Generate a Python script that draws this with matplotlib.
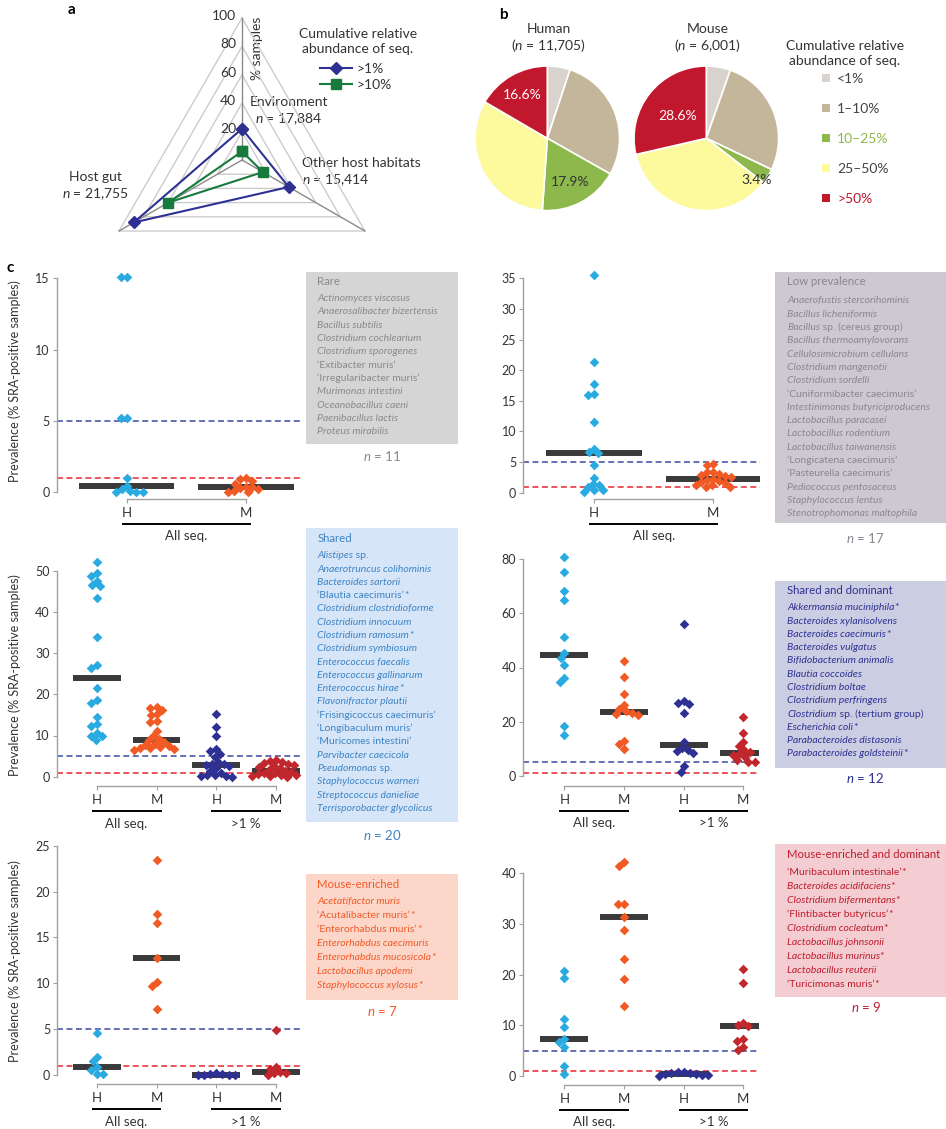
import numpy as np
import matplotlib
matplotlib.use("Agg")
import matplotlib.pyplot as plt
import matplotlib.transforms as mtransforms
from matplotlib.patches import Rectangle, Patch
from matplotlib.lines import Line2D

plt.rcParams['font.family'] = ['Lato', 'DejaVu Sans']
plt.rcParams['mathtext.fontset'] = 'custom'
plt.rcParams['mathtext.rm'] = 'Lato'
plt.rcParams['mathtext.it'] = 'Lato:italic'
plt.rcParams['mathtext.bf'] = 'Lato:bold'

# --- data: panel a (radar, % samples) ---
habitats = ['Environment', 'Other host habitats', 'Host gut']
habitat_n = ['17,884', '15,414', '21,755']
radar_gt1 = [22, 38, 88]
radar_gt10 = [6, 17, 60]

# --- data: panel b (pies, % of species) ---
pie_labels = ['<1%', '1–10%', '10–25%', '25–50%', '>50%']
human_pct = [5.1, 28.1, 17.9, 32.3, 16.6]
mouse_pct = [5.4, 26.7, 3.4, 35.9, 28.6]
pie_colors = ['#d9d3cd', '#c4b69b', '#8db84b', '#fdfa9d', '#c1182e']
pie_text_colors = ['#444444', '#444444', '#8db84b', '#444444', '#c1182e']

# --- data: panel c (prevalence, % SRA-positive samples) ---
rare_H = [15.1, 15.1, 5.2, 5.2, 1.0, 0.45, 0.2, 0.1, 0.0, 0.0, 0.0]
rare_M = [1.0, 0.9, 0.8, 0.6, 0.4, 0.35, 0.3, 0.2, 0.1, 0.05, 0.0]

low_H = [35.5, 21.4, 17.7, 16.1, 15.9, 11.5, 7.1, 6.6, 6.4, 4.6, 2.4, 1.4, 1.2, 0.9, 0.4, 0.4, 0.1]
low_M = [4.7, 4.6, 3.4, 3.3, 3.1, 2.9, 2.7, 2.6, 2.2, 2.0, 1.9, 1.8, 1.6, 1.3, 1.2, 1.0, 1.0]

shared_H = [52.0, 49.5, 48.7, 47.5, 46.6, 46.3, 43.3, 34.0, 27.0, 26.5,
            21.5, 18.7, 17.9, 14.5, 12.8, 12.3, 10.7, 10.0, 9.8, 9.0]
shared_M = [17.0, 16.7, 16.3, 15.3, 14.9, 13.6, 13.3, 11.2, 9.9, 9.2,
            8.8, 8.5, 8.0, 7.7, 7.5, 7.2, 7.0, 6.9, 6.8, 6.6]
shared_H1 = [15.3, 12.0, 9.8, 6.7, 6.3, 5.5, 4.8, 3.5, 3.2, 3.0,
             2.8, 2.5, 2.0, 1.5, 1.0, 0.5, 0.3, 0.2, 0.1, 0.0]
shared_M1 = [4.0, 3.8, 3.6, 3.3, 3.0, 2.8, 2.6, 2.3, 2.0, 1.6,
             1.4, 1.2, 1.0, 0.8, 0.6, 0.4, 0.3, 0.2, 0.1, 0.0]

shdom_H = [80.8, 75.2, 68.2, 65.1, 51.2, 45.5, 43.5, 40.8, 36.0, 34.5, 18.3, 15.0]
shdom_M = [42.5, 36.4, 30.1, 26.1, 24.8, 24.0, 23.3, 22.8, 22.5, 12.9, 11.7, 9.8]
shdom_H1 = [56.0, 27.5, 27.0, 26.5, 23.1, 12.5, 10.3, 9.5, 9.0, 8.5, 3.6, 1.5]
shdom_M1 = [21.8, 15.7, 12.6, 11.0, 9.5, 8.9, 8.0, 7.6, 7.0, 5.8, 5.2, 4.9]

menr_H = [4.6, 2.0, 1.5, 0.9, 0.55, 0.1, 0.07]
menr_M = [23.4, 17.6, 16.6, 12.8, 10.1, 9.7, 7.2]
menr_H1 = [0.2, 0.15, 0.1, 0.05, 0.0, 0.0, 0.0]
menr_M1 = [4.9, 0.85, 0.7, 0.35, 0.25, 0.2, 0.05]

mdom_H = [20.7, 19.4, 11.3, 9.6, 7.3, 6.8, 5.8, 2.0, 0.3]
mdom_M = [42.2, 41.5, 33.9, 33.9, 31.3, 28.9, 23.1, 19.1, 13.8]
mdom_H1 = [0.8, 0.7, 0.6, 0.5, 0.4, 0.3, 0.2, 0.1, 0.0]
mdom_M1 = [21.1, 18.3, 10.5, 10.1, 9.8, 7.3, 7.0, 5.7, 5.1]

rare_species = ['Actinomyces viscosus', 'Anaerosalibacter bizertensis', 'Bacillus subtilis',
                'Clostridium cochlearium', 'Clostridium sporogenes', '‘Extibacter muris’',
                '‘Irregularibacter muris’', 'Murimonas intestini', 'Oceanobacillus caeni',
                'Paenibacillus lactis', 'Proteus mirabilis']
low_species = ['Anaerofustis stercorihominis', 'Bacillus licheniformis', 'Bacillus sp. (cereus group)',
               'Bacillus thermoamylovorans', 'Cellulosimicrobium cellulans', 'Clostridium mangenotii',
               'Clostridium sordelli', '‘Cuniformibacter caecimuris’', 'Intestinimonas butyriciproducens',
               'Lactobacillus paracasei', 'Lactobacillus rodentium', 'Lactobacillus taiwanensis',
               '‘Longicatena caecimuris’', '‘Pasteurella caecimuris’', 'Pediococcus pentosaceus',
               'Staphylococcus lentus', 'Stenotrophomonas maltophila']
shared_species = ['Alistipes sp.', 'Anaerotruncus colihominis', 'Bacteroides sartorii',
                  '‘Blautia caecimuris’*', 'Clostridium clostridioforme', 'Clostridium innocuum',
                  'Clostridium ramosum*', 'Clostridium symbiosum', 'Enterococcus faecalis',
                  'Enterococcus gallinarum', 'Enterococcus hirae*', 'Flavonifractor plautii',
                  '‘Frisingicoccus caecimuris’', '‘Longibaculum muris’', '‘Muricomes intestini’',
                  'Parvibacter caecicola', 'Pseudomonas sp.', 'Staphylococcus warneri',
                  'Streptococcus danieliae', 'Terrisporobacter glycolicus']
shdom_species = ['Akkermansia muciniphila*', 'Bacteroides xylanisolvens', 'Bacteroides caecimuris*',
                 'Bacteroides vulgatus', 'Bifidobacterium animalis', 'Blautia coccoides',
                 'Clostridium boltae', 'Clostridium perfringens', 'Clostridium sp. (tertium group)',
                 'Escherichia coli*', 'Parabacteroides distasonis', 'Parabacteroides goldsteinii*']
menr_species = ['Acetatifactor muris', '‘Acutalibacter muris’*', '‘Enterorhabdus muris’*',
                'Enterorhabdus caecimuris', 'Enterorhabdus mucosicola*', 'Lactobacillus apodemi',
                'Staphylococcus xylosus*']
mdom_species = ['‘Muribaculum intestinale’*', 'Bacteroides acidifaciens*', 'Clostridium bifermentans*',
                '‘Flintibacter butyricus’*', 'Clostridium cocleatum*', 'Lactobacillus johnsonii',
                'Lactobacillus murinus*', 'Lactobacillus reuterii', '‘Turicimonas muris’*']

C_H, C_M, C_H1, C_M1 = '#29abe2', '#f15a24', '#2e3192', '#c1272d'
TXT = '#333333'

W, H = 946, 1129
fig = plt.figure(figsize=(W / 100, H / 100), dpi=100)


def px_axes(x0, y0, x1, y1):
    return fig.add_axes([x0 / W, 1 - y1 / H, (x1 - x0) / W, (y1 - y0) / H])


# overlay in pixel coordinates for free text and boxes
ov = px_axes(0, 0, W, H)
ov.set_xlim(0, W)
ov.set_ylim(H, 0)
ov.axis('off')

# ---------------- panel a ----------------
cx, cy, scale = 242, 160, 1.42
ax_a = px_axes(40, 0, 440, 245)
ax_a.set_xlim((40 - cx) / scale, (440 - cx) / scale)
ax_a.set_ylim((cy - 245) / scale, cy / scale)
ax_a.axis('off')
ang = np.deg2rad([90, -30, 210])


def radar_xy(r):
    r = np.asarray(r, float)
    x, y = r * np.cos(ang), r * np.sin(ang)
    return np.append(x, x[0]), np.append(y, y[0])


for lev in [20, 40, 60, 80, 100]:
    gx, gy = radar_xy([lev] * 3)
    ax_a.plot(gx, gy, color='#cccccc', lw=1, zorder=1)
    ax_a.text(-4, lev + 1.5, str(lev), ha='right', va='center', fontsize=10, color=TXT)
for a in ang:
    ax_a.plot([0, 100 * np.cos(a)], [0, 100 * np.sin(a)], color='#8a8a8a', lw=1, zorder=1)

x1, y1 = radar_xy(radar_gt1)
ax_a.plot(x1, y1, color=C_H1, lw=1.5, marker='D', ms=6.5, zorder=3)
x10, y10 = radar_xy(radar_gt10)
ax_a.plot(x10, y10, color='#187a3d', lw=1.5, marker='s', ms=7, zorder=3)
fig.legend(handles=[Line2D([], [], color=C_H1, lw=1.5, marker='D', ms=6.5),
                    Line2D([], [], color='#187a3d', lw=1.5, marker='s', ms=7)],
           labels=['>1%', '>10%'], loc='upper left', bbox_to_anchor=(320 / W, 1 - 63 / H),
           frameon=False, fontsize=10, handlelength=2.3, handletextpad=0.3,
           labelspacing=0.3, borderpad=0, borderaxespad=0, labelcolor=TXT)

ov.text(68, 10, 'a', fontsize=11, fontweight='bold', va='center')
ov.text(358, 41.5, 'Cumulative relative\nabundance of seq.', ha='center', va='center',
        fontsize=10, color=TXT, linespacing=1.25)
ov.text(257, 48, '% samples', rotation=90, ha='center', va='center', fontsize=10, color=TXT)
ov.text(250, 102, habitats[0], fontsize=10, va='center', color=TXT)
ov.text(255, 119, f'$n$ = {habitat_n[0]}', fontsize=10, va='center', color=TXT)
ov.text(302, 163, habitats[1], fontsize=10, va='center', color=TXT)
ov.text(302, 180, f'$n$ = {habitat_n[1]}', fontsize=10, va='center', color=TXT)
ov.text(95.5, 177, habitats[2], fontsize=10, va='center', ha='center', color=TXT)
ov.text(95.5, 194, f'$n$ = {habitat_n[2]}', fontsize=10, va='center', ha='center', color=TXT)

# ---------------- panel b ----------------
ov.text(499, 15, 'b', fontsize=11, fontweight='bold', va='center')
pie_r = 72.3
# label placement per slice: (radius, angular shift in degrees)
pie_specs = [('Human', '11,705', human_pct, 547.3, 138.3,
              {2: (0.68, 0), 4: (0.69, 0)}, {2: '#333333', 4: 'white'}),
             ('Mouse', '6,001', mouse_pct, 706.3, 138.3,
              {2: (0.9, -8), 4: (0.5, 0)}, {2: '#333333', 4: 'white'})]
for title, n, pct, pcx, pcy, lab_pos, lab_c in pie_specs:
    axp = px_axes(pcx - 80, pcy - 80, pcx + 80, pcy + 80)
    wedges, _ = axp.pie(pct, colors=pie_colors, startangle=90, counterclock=False, radius=1,
                        wedgeprops=dict(edgecolor='white', linewidth=1.2))
    lim = 80 / pie_r
    axp.set_xlim(-lim, lim)
    axp.set_ylim(-lim, lim)
    for i, (rr, dth) in lab_pos.items():
        w = wedges[i]
        mid = np.deg2rad((w.theta1 + w.theta2) / 2 + dth)
        axp.text(rr * np.cos(mid), rr * np.sin(mid), f'{pct[i]:.1f}%', ha='center', va='center',
                 fontsize=10, color=lab_c[i])
    ov.text(pcx + 1.5, 29.3, title, ha='center', va='center', fontsize=10, color=TXT)
    ov.text(pcx + 1.5, 46, f'($n$ = {n})', ha='center', va='center', fontsize=10, color=TXT)

ov.text(845, 53.5, 'Cumulative relative\nabundance of seq.', ha='center', va='center',
        fontsize=10, color=TXT, linespacing=1.25)
fig.legend(handles=[Patch(facecolor=c, edgecolor='none') for c in pie_colors], labels=pie_labels,
           loc='upper left', bbox_to_anchor=(822 / W, 1 - 73 / H), frameon=False, fontsize=10,
           handlelength=0.55, handleheight=0.55, handletextpad=0.55, labelspacing=1.3,
           borderpad=0, borderaxespad=0, labelcolor=pie_text_colors)

# ---------------- panel c ----------------
ov.text(6, 268, 'c', fontsize=11, fontweight='bold', va='center')


def swarm(ax, xc, vals, step_px, diam=6.2):
    vals = np.asarray(vals, float)
    ypix = ax.transData.transform(np.column_stack([np.full(len(vals), xc), vals]))[:, 1]
    offs = np.zeros(len(vals))
    placed = []
    for i in np.argsort(-vals, kind='stable'):
        forb = []
        for px, py in placed:
            dy = abs(ypix[i] - py)
            if dy < diam:
                h = np.sqrt(diam ** 2 - dy ** 2)
                forb.append((px - h, px + h))
        cands = sorted([0.0] + [b for iv in forb for b in iv], key=lambda c: (abs(c), c))
        for c in cands:
            if all(not (lo + 1e-6 < c < hi - 1e-6) for lo, hi in forb):
                offs[i] = c
                break
        placed.append((offs[i], ypix[i]))
    return xc + offs / step_px


def strip_panel(L, groups, group_labels):
    ppu = (L['zero_y'] - L['tick_y']) / L['ticks'][-1]
    ax = px_axes(L['spine_x'], L['top_y'], L['right_x'], L['bottom_y'])
    ax.set_xlim(-(L['first_x'] - L['spine_x']) / L['step'], (L['right_x'] - L['first_x']) / L['step'])
    ax.set_ylim(-(L['bottom_y'] - L['zero_y']) / ppu, (L['zero_y'] - L['top_y']) / ppu)
    ax.patch.set_alpha(0)
    for s in ['top', 'right']:
        ax.spines[s].set_visible(False)
    for s in ['left', 'bottom']:
        ax.spines[s].set_color('#a0a0a0')
        ax.spines[s].set_linewidth(1)
    ax.spines['left'].set_bounds(0, L['ticks'][-1])
    ax.spines['bottom'].set_bounds(0, len(groups) - 1)
    ax.set_yticks(L['ticks'])
    ax.set_xticks(range(len(groups)))
    ax.set_xticklabels(['H', 'M'] * (len(groups) // 2))
    ax.tick_params(axis='y', length=3, width=0.8, color='#a0a0a0', labelsize=9, labelcolor=TXT, pad=2)
    ax.tick_params(axis='x', length=3, width=0.8, color='#a0a0a0', labelsize=9.5, labelcolor=TXT, pad=3)
    ax.axhline(5, color='#3b4aa0', lw=1.1, ls=(0, (3.9, 2.3)), zorder=1)
    ax.axhline(1, color='#e8262f', lw=1.1, ls=(0, (3.9, 2.3)), zorder=1)
    for gi, (vals, col) in enumerate(groups):
        ax.hlines(np.median(vals), gi - 0.4, gi + 0.4, color='#3a3a3a', lw=4.3, zorder=2)
        xs = swarm(ax, gi, vals, L['step'])
        ax.scatter(xs, vals, marker='D', s=24, color=col, linewidths=0, zorder=3, clip_on=False)
    pad = 4 / L['step']
    t_line = ax.get_xaxis_transform() + mtransforms.ScaledTranslation(0, -0.25, fig.dpi_scale_trans)
    t_lab = ax.get_xaxis_transform() + mtransforms.ScaledTranslation(0, -0.375, fig.dpi_scale_trans)
    for k, lab in enumerate(group_labels):
        a, b = 2 * k, 2 * k + 1
        ax.plot([a - pad, b + pad], [0, 0], color='black', lw=1.4, transform=t_line, clip_on=False)
        ax.text((a + b) / 2, 0, lab, transform=t_lab, ha='center', va='center', fontsize=9.5, color=TXT)
    return ax


def split_name(name):
    star = name.endswith('*')
    core = name[:-1] if star else name
    if core.startswith('‘'):
        segs = [(core, 'normal')]
    elif ' sp.' in core:
        i = core.index(' sp.')
        segs = [(core[:i], 'italic'), (core[i:], 'normal')]
    else:
        segs = [(core, 'italic')]
    if star:
        segs.append(('*', 'normal'))
    return segs


def species_box(box, fc, tc, title, title_y, species, sp_y, sp_step, tx, n_xy):
    x0, y0, x1, y1 = box
    ov.add_patch(Rectangle((x0, y0), x1 - x0, y1 - y0, facecolor=fc, edgecolor='none', zorder=0))
    ov.text(tx, title_y, title, fontsize=8.2, color=tc, va='center')
    for k, name in enumerate(species):
        prev = None
        for seg, st in split_name(name):
            if prev is None:
                prev = ov.text(tx, sp_y + k * sp_step, seg, style=st, fontsize=7.5, color=tc, va='center')
            else:
                prev = ov.annotate(seg, xy=(1, 0), xycoords=prev, va='bottom', ha='left',
                                   style=st, fontsize=7.5, color=tc)
    ov.text(n_xy[0], n_xy[1], f'$n$ = {len(species)}', fontsize=9.5, color=tc, ha='center', va='center')


layouts = {
    'rare': dict(spine_x=56.7, first_x=126.7, step=119.3, right_x=301.7, zero_y=492.3, tick_y=278.3,
                 bottom_y=499, top_y=268, ticks=[0, 5, 10, 15]),
    'low': dict(spine_x=523.3, first_x=594, step=119.3, right_x=760, zero_y=492.7, tick_y=278.3,
                bottom_y=499, top_y=268, ticks=list(range(0, 36, 5))),
    'shared': dict(spine_x=56.7, first_x=96.7, step=59.8, right_x=301.7, zero_y=776.7, tick_y=570.7,
                   bottom_y=786, top_y=560, ticks=list(range(0, 51, 10))),
    'shdom': dict(spine_x=523.3, first_x=564.3, step=59.7, right_x=759.3, zero_y=775.7, tick_y=559.3,
                  bottom_y=785.7, top_y=550, ticks=list(range(0, 81, 20))),
    'menr': dict(spine_x=57.3, first_x=96.7, step=59.8, right_x=301.7, zero_y=1075, tick_y=845.7,
                 bottom_y=1084, top_y=840, ticks=list(range(0, 26, 5))),
    'mdom': dict(spine_x=523.3, first_x=564.3, step=59.7, right_x=759.3, zero_y=1076, tick_y=873.3,
                 bottom_y=1085, top_y=855, ticks=list(range(0, 41, 10))),
}

strip_panel(layouts['rare'], [(rare_H, C_H), (rare_M, C_M)], ['All seq.'])
strip_panel(layouts['low'], [(low_H, C_H), (low_M, C_M)], ['All seq.'])
strip_panel(layouts['shared'], [(shared_H, C_H), (shared_M, C_M), (shared_H1, C_H1), (shared_M1, C_M1)],
            ['All seq.', '>1 %'])
strip_panel(layouts['shdom'], [(shdom_H, C_H), (shdom_M, C_M), (shdom_H1, C_H1), (shdom_M1, C_M1)],
            ['All seq.', '>1 %'])
strip_panel(layouts['menr'], [(menr_H, C_H), (menr_M, C_M), (menr_H1, C_H1), (menr_M1, C_M1)],
            ['All seq.', '>1 %'])
strip_panel(layouts['mdom'], [(mdom_H, C_H), (mdom_M, C_M), (mdom_H1, C_H1), (mdom_M1, C_M1)],
            ['All seq.', '>1 %'])

for yc in [381, 675, 961]:
    ov.text(15, yc, 'Prevalence (% SRA-positive samples)', rotation=90, ha='center', va='center',
            fontsize=9, color=TXT)

species_box((305.7, 272.3, 457.7, 444.3), '#d5d5d5', '#8a8a8a', 'Rare', 281.7,
            rare_species, 298.7, 13.3, 317.3, (382, 455.7))
species_box((775, 272.3, 946, 522.5), '#cec9d0', '#8b8690', 'Low prevalence', 281.7,
            low_species, 301, 13.3, 787.3, (865, 538))
species_box((305.7, 528.3, 457.7, 821.7), '#d6e5f8', '#3d85c6', 'Shared', 538.3,
            shared_species, 555.7, 13.3, 317.3, (382, 835))
species_box((775, 580.7, 946, 767.7), '#cbcee3', '#2e3192', 'Shared and dominant', 591,
            shdom_species, 607.7, 13.3, 787.3, (865, 778.3))
species_box((305.7, 874.3, 457.7, 1000), '#fcd6c9', '#f15a29', 'Mouse-enriched', 884.3,
            menr_species, 901.7, 14, 317.3, (382, 1011))
species_box((775, 844.3, 946, 996.7), '#f3cdd2', '#be1e2d', 'Mouse-enriched and dominant', 855,
            mdom_species, 872.7, 14, 786.7, (866, 1006.7))

fig.savefig('out.png', dpi=100)
